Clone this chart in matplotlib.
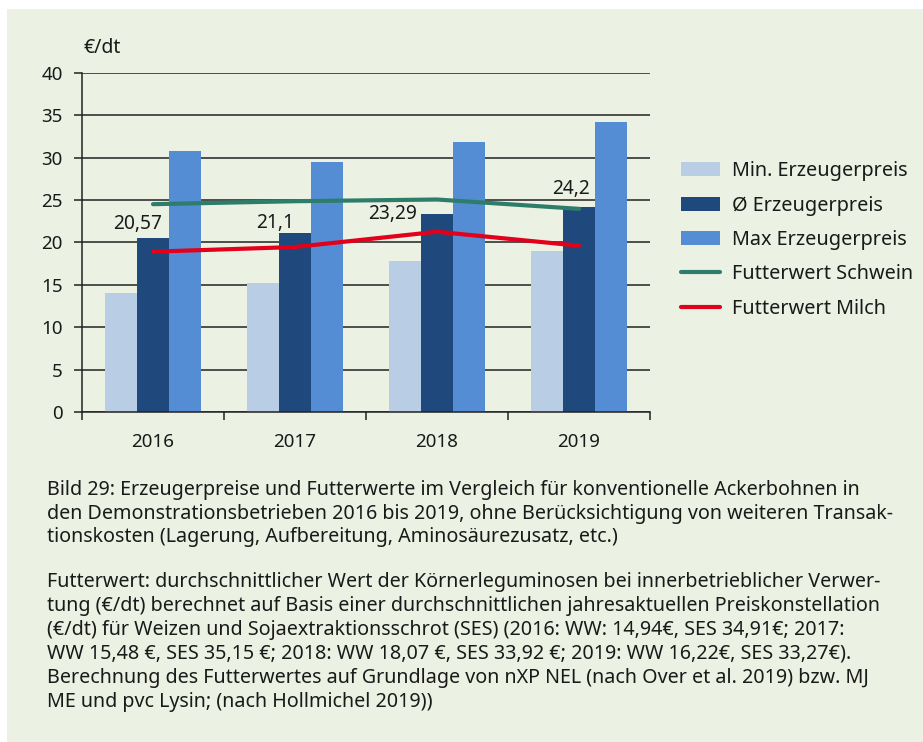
import matplotlib
matplotlib.use("Agg")
import matplotlib.pyplot as plt
import matplotlib.patches as mpatches
import numpy as np

# data
years = ["2016", "2017", "2018", "2019"]
min_preis = [14.0, 15.2, 17.8, 19.0]
avg_preis = [20.57, 21.1, 23.29, 24.2]
max_preis = [30.8, 29.5, 31.8, 34.2]
futter_schwein = [24.5, 24.85, 25.05, 23.95]
futter_milch = [18.9, 19.45, 21.25, 19.6]
avg_labels = ["20,57", "21,1", "23,29", "24,2"]

caption_1 = [
    "Bild 29: Erzeugerpreise und Futterwerte im Vergleich für konventionelle Ackerbohnen in",
    "den Demonstrationsbetrieben 2016 bis 2019, ohne Berücksichtigung von weiteren Transak-",
    "tionskosten (Lagerung, Aufbereitung, Aminosäurezusatz, etc.)",
]
caption_2 = [
    "Futterwert: durchschnittlicher Wert der Körnerleguminosen bei innerbetrieblicher Verwer-",
    "tung (€/dt) berechnet auf Basis einer durchschnittlichen jahresaktuellen Preiskonstellation",
    "(€/dt) für Weizen und Sojaextraktionsschrot (SES) (2016: WW: 14,94€, SES 34,91€; 2017:",
    "WW 15,48 €, SES 35,15 €; 2018: WW 18,07 €, SES 33,92 €; 2019: WW 16,22€, SES 33,27€).",
    "Berechnung des Futterwertes auf Grundlage von nXP NEL (nach Over et al. 2019) bzw. MJ",
    "ME und pvc Lysin; (nach Hollmichel 2019))",
]

BG = "#ecf2e3"
C_MIN = "#b9cde5"
C_AVG = "#1f497d"
C_MAX = "#548dd4"
C_SCHWEIN = "#2e7d6b"
C_MILCH = "#e2001a"
TXT = "#1a1a1a"

plt.rcParams["font.family"] = ["Noto Sans", "DejaVu Sans"]

fig = plt.figure(figsize=(9.23, 7.42), dpi=100)
fig.patch.set_facecolor("white")
fig.patches.append(mpatches.Rectangle((7 / 923, 0), 1, 1 - 9 / 742, transform=fig.transFigure,
                                      facecolor=BG, edgecolor="none", zorder=-10))

ax = fig.add_axes([82 / 923, 1 - 412 / 742, 568 / 923, (412 - 72.7) / 742])
ax.set_facecolor("none")

x = np.arange(len(years))
w = 0.225
b1 = ax.bar(x - w, min_preis, w, color=C_MIN, label="Min. Erzeugerpreis", zorder=2)
b2 = ax.bar(x, avg_preis, w, color=C_AVG, label="Ø Erzeugerpreis", zorder=2)
b3 = ax.bar(x + w, max_preis, w, color=C_MAX, label="Max Erzeugerpreis", zorder=2)
l1, = ax.plot(x, futter_schwein, color=C_SCHWEIN, lw=3, solid_capstyle="round",
              label="Futterwert Schwein", zorder=3)
l2, = ax.plot(x, futter_milch, color=C_MILCH, lw=3, solid_capstyle="round",
              label="Futterwert Milch", zorder=3)

# labels on the average bars, nudged left like the original
nudges = [(-11, 10), (-14, 7), (-32, 0), (-6, 13)]
for xi, v, s, (dx, dy) in zip(x, avg_preis, avg_labels, nudges):
    ax.annotate(s, (xi, v), xytext=(dx, dy), textcoords="offset points",
                ha="center", va="center", fontsize=13.8, color=TXT, zorder=4)

ax.set_xlim(-0.5, 3.5)
ax.set_ylim(0, 40)
ax.set_yticks(np.arange(0, 41, 5))
ax.yaxis.grid(True, color="#222222", lw=1.1)
ax.set_axisbelow(True)
ax.set_xticks(x)
ax.set_xticklabels(years)
ax.set_xticks(np.arange(-0.5, 3.6, 1), minor=True)
ax.tick_params(axis="x", which="major", length=0, pad=15, labelsize=13.5, labelcolor=TXT)
ax.tick_params(axis="x", which="minor", length=6, width=1.1, color="#222222", direction="out")
ax.tick_params(axis="y", length=6, width=1.1, color="#222222", pad=8, labelsize=13.5, labelcolor=TXT)
for side in ["top", "right"]:
    ax.spines[side].set_visible(False)
for side in ["left", "bottom"]:
    ax.spines[side].set_color("#222222")
    ax.spines[side].set_linewidth(1.1)

fig.text(83 / 923, 1 - 48 / 742, "€/dt", fontsize=14, color=TXT, va="center", ha="left")

leg = ax.legend([b1, b2, b3, l1, l2],
                ["Min. Erzeugerpreis", "Ø Erzeugerpreis", "Max Erzeugerpreis",
                 "Futterwert Schwein", "Futterwert Milch"],
                loc="center left", bbox_to_anchor=(681 / 923, 1 - 240 / 742),
                bbox_transform=fig.transFigure, frameon=False, fontsize=14.3,
                borderpad=0, borderaxespad=0,
                handlelength=1.96, handletextpad=0.6, labelspacing=0.72)
for t in leg.get_texts():
    t.set_color(TXT)

for i, line in enumerate(caption_1):
    fig.text(47 / 923, 1 - (490 + 23.5 * i) / 742, line, fontsize=14.2, color=TXT, va="center")
for i, line in enumerate(caption_2):
    fig.text(47 / 923, 1 - (582 + 24 * i) / 742, line, fontsize=14.2, color=TXT, va="center")

fig.savefig("out.png", dpi=100, facecolor=fig.get_facecolor())
